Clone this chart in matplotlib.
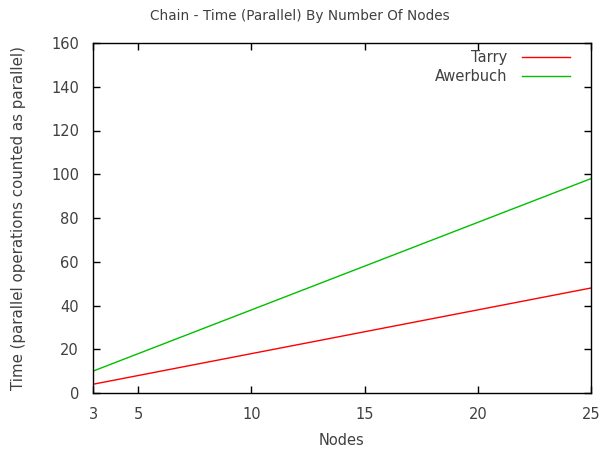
import matplotlib
matplotlib.use("Agg")
import matplotlib.pyplot as plt

nodes = [3, 4, 5, 6, 7, 8, 9, 10, 11, 12, 13, 14, 15, 16, 17, 18, 19, 20, 21, 22, 23, 24, 25]
tarry = [4, 6, 8, 10, 12, 14, 16, 18, 20, 22, 24, 26, 28, 30, 32, 34, 36, 38, 40, 42, 44, 46, 48]
awerbuch = [10, 14, 18, 22, 26, 30, 34, 38, 42, 46, 50, 54, 58, 62, 66, 70, 74, 78, 82, 86, 90, 94, 98]
xticks = [3, 5, 10, 15, 20, 25]
yticks = [0, 20, 40, 60, 80, 100, 120, 140, 160]

txt = "#404040"
plt.rcParams['font.family'] = ['DejaVu Sans']
fig = plt.figure(figsize=(6.0, 4.49), dpi=100)
ax = fig.add_axes([93/600, 1-393/449, (591-93)/600, (393-43)/449])
ax.plot(nodes, tarry, color="#ff0000", lw=1, label="Tarry")
ax.plot(nodes, awerbuch, color="#00c000", lw=1, label="Awerbuch")
ax.set_xlim(3, 25)
ax.set_ylim(0, 160)
ax.set_xticks(xticks)
ax.set_yticks(yticks)
ax.tick_params(direction="in", top=True, right=True, length=5, width=1, labelsize=10.5, labelcolor=txt, pad=10)
for s in ax.spines.values():
    s.set_linewidth(1)
fig.text(0.5, 1-16/449, "Chain - Time (Parallel) By Number Of Nodes", fontsize=9.8, color=txt,
         ha="center", va="center")
ax.set_xlabel("Nodes", fontsize=10.5, color=txt, labelpad=8)
ax.yaxis.set_label_coords(-67/498, 0.5)
ax.set_ylabel("Time (parallel operations counted as parallel)", fontsize=10.8, color=txt)
leg = ax.legend(loc="upper right", frameon=False, markerfirst=False, fontsize=10.5,
                handlelength=3.3, borderaxespad=0.1, labelspacing=0.25, handletextpad=1.0,
                bbox_to_anchor=(1 - 14/498, 1.0))
for t in leg.get_texts():
    t.set_color(txt)
    t.set_ha("right")
fig.savefig("out.png", dpi=100)
